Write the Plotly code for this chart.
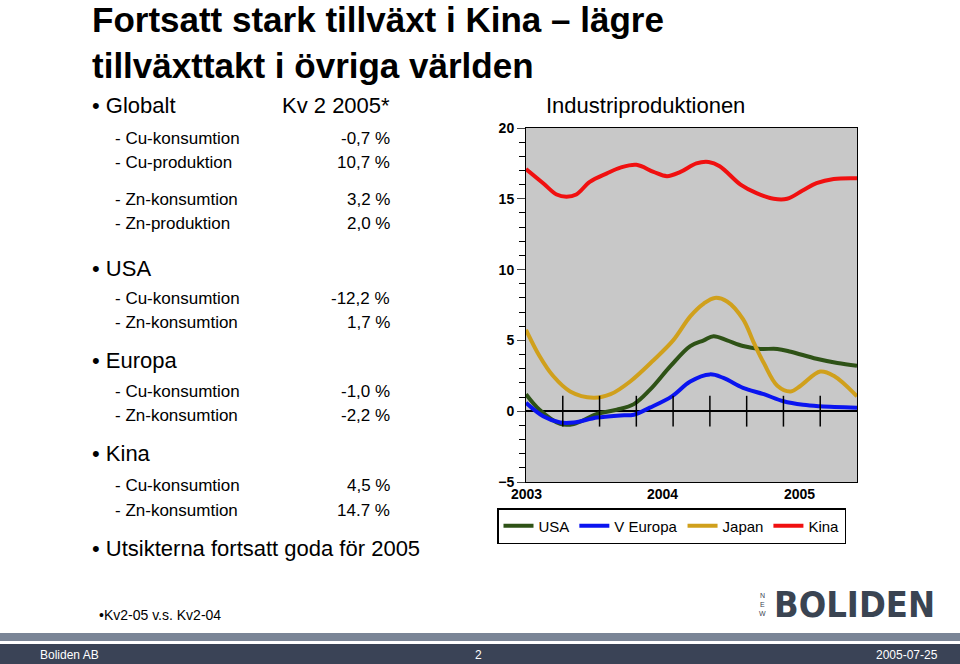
import plotly.graph_objects as go

W, H = 960, 664
kina_x = [0,1.4,2.5,3.3,4.1,5.2,6.6,7.7,9.0,10.4,11.5,12.6,13.9,14.9,15.8,17.5,18.8,20.2,21.3,22.6,23.7,25.1,27.0]
kina_y = [17.1,16.1,15.3,15.15,15.3,16.2,16.8,17.2,17.4,16.9,16.6,16.9,17.5,17.6,17.3,16.0,15.4,15.0,15.0,15.6,16.1,16.4,16.45]
japan_x = [0,1.1,2.2,3.6,5.5,6.9,8.5,10.4,12.0,13.4,14.5,15.4,16.4,17.7,18.6,19.4,20.5,21.6,22.4,24.0,25.1,27.0]
japan_y = [5.75,3.9,2.5,1.4,0.95,1.2,2.1,3.6,5.0,6.7,7.6,8.0,7.75,6.5,4.8,3.4,1.8,1.4,1.8,2.8,2.5,1.05]
usa_x = [0,1.1,2.8,3.9,5.8,7.4,8.8,10.1,11.8,13.4,14.5,15.3,16.4,17.7,19.1,20.5,21.6,23.7,25.4,27.0]
usa_y = [1.2,0.1,-0.9,-0.9,-0.2,0.1,0.5,1.5,3.2,4.6,5.0,5.3,5.0,4.6,4.4,4.4,4.2,3.7,3.4,3.2]
eu_x = [0,1.4,2.8,3.9,5.8,7.7,8.8,10.1,11.9,13.4,15.0,16.1,17.7,19.4,21.0,22.6,24.0,27.0]
eu_y = [0.6,-0.35,-0.8,-0.8,-0.45,-0.3,-0.25,0.25,1.05,2.1,2.6,2.35,1.65,1.2,0.7,0.45,0.35,0.25]
year_labels = ["2003", "2004", "2005"]
year_pos = [0, 11.1, 22.3]
quarter_ticks = [3, 6, 9, 12, 15, 18, 21, 24]

left_rows = [
    ("• Globalt", "Kv 2 2005*", 106, 22, True),
    ("- Cu-konsumtion", "-0,7 %", 138, 17, False),
    ("- Cu-produktion", "10,7 %", 162, 17, False),
    ("- Zn-konsumtion", "3,2 %", 200, 17, False),
    ("- Zn-produktion", "2,0 %", 224, 17, False),
    ("• USA", "", 268, 22, True),
    ("- Cu-konsumtion", "-12,2 %", 298, 17, False),
    ("- Zn-konsumtion", "1,7 %", 322, 17, False),
    ("• Europa", "", 360, 22, True),
    ("- Cu-konsumtion", "-1,0 %", 391, 17, False),
    ("- Zn-konsumtion", "-2,2 %", 415, 17, False),
    ("• Kina", "", 454, 22, True),
    ("- Cu-konsumtion", "4,5 %", 485, 17, False),
    ("- Zn-konsumtion", "14.7 %", 510, 17, False),
    ("• Utsikterna fortsatt goda för 2005", "", 548, 22, True),
]

def px(x): return x / W
def py(y): return 1 - y / H

fig = go.Figure()
fig.add_trace(go.Scatter(x=usa_x, y=usa_y, name="USA", mode="lines", line=dict(color="#2e5216", width=4, shape="spline")))
fig.add_trace(go.Scatter(x=eu_x, y=eu_y, name="V Europa", mode="lines", line=dict(color="#0a14f0", width=4, shape="spline")))
fig.add_trace(go.Scatter(x=japan_x, y=japan_y, name="Japan", mode="lines", line=dict(color="#d0a01c", width=4, shape="spline")))
fig.add_trace(go.Scatter(x=kina_x, y=kina_y, name="Kina", mode="lines", line=dict(color="#f01010", width=4, shape="spline")))
fig.add_trace(go.Scatter(x=quarter_ticks, y=[0]*len(quarter_ticks), mode="markers", showlegend=False, hoverinfo="skip",
                         marker=dict(symbol="line-ns", size=22, line=dict(color="black", width=1.5))))

fig.update_layout(
    width=W, height=H, margin=dict(l=0, r=0, t=0, b=0, autoexpand=False),
    paper_bgcolor="white", plot_bgcolor="#c8c8c8",
    font=dict(family="Liberation Sans, Arial", color="black"),
    showlegend=True,
    legend=dict(orientation="h", x=px(497), y=py(508), xanchor="left", yanchor="top",
                bordercolor="black", borderwidth=1.5, bgcolor="white",
                font=dict(size=15), tracegroupgap=0, itemwidth=30),
    xaxis=dict(domain=[px(526), px(857)], range=[0, 27], showticklabels=False, ticks="",
               showgrid=False, zeroline=False, showline=True, linecolor="black", mirror=True),
    yaxis=dict(domain=[py(482), py(128)], range=[-5, 20], tickvals=[-5, 0, 5, 10, 15, 20],
               ticks="outside", ticklen=8, tickfont=dict(size=14, family="Liberation Sans", weight="bold"),
               minor=dict(dtick=1, ticks="outside", ticklen=6, tickcolor="black"),
               showgrid=False, zeroline=True, zerolinecolor="black", zerolinewidth=1.5,
               showline=True, linecolor="black", mirror=True),
)

ann = []
ann.append(dict(text="<b>Fortsatt stark tillväxt i Kina – lägre<br>tillväxttakt i övriga världen</b>",
                x=px(90), y=py(-2), xanchor="left", yanchor="top", align="left",
                font=dict(size=35, family="Liberation Sans"), showarrow=False, xref="paper", yref="paper"))
for lab, val, y, fs, big in left_rows:
    x0 = 90 if big else 113
    ann.append(dict(text=lab, x=px(x0), y=py(y), xanchor="left", yanchor="middle", showarrow=False,
                    font=dict(size=fs), xref="paper", yref="paper"))
    if val:
        ann.append(dict(text=val, x=px(392), y=py(y), xanchor="right", yanchor="middle", showarrow=False,
                        font=dict(size=fs), xref="paper", yref="paper"))
ann.append(dict(text="Industriproduktionen", x=px(645), y=py(106), xanchor="center", yanchor="middle",
                showarrow=False, font=dict(size=22), xref="paper", yref="paper"))
for lab, xv in zip(year_labels, year_pos):
    ann.append(dict(text="<b>" + lab + "</b>", x=xv, y=-5, xref="x", yref="y", yanchor="top", xanchor="center",
                    yshift=-2, showarrow=False, font=dict(size=14)))
ann.append(dict(text="•Kv2-05 v.s. Kv2-04", x=px(97), y=py(615), xanchor="left", yanchor="middle",
                showarrow=False, font=dict(size=14), xref="paper", yref="paper"))
ann.append(dict(text="<b>BOLIDEN</b>", x=px(937), y=py(604), xanchor="right", yanchor="middle",
                showarrow=False,
                font=dict(size=36, color="#3a4452", family="Liberation Sans Narrow, DejaVu Sans Condensed, Roboto Condensed, Liberation Sans"),
                xref="paper", yref="paper"))
for i, ch in enumerate(["N", "E", "W"]):
    ann.append(dict(text=ch, x=px(762), y=py(595 + 9 * i), xanchor="center", yanchor="middle",
                    showarrow=False, font=dict(size=7, color="#3a4452"), xref="paper", yref="paper",
                    borderpad=0))
for t, x, xa in [("Boliden AB", 38, "left"), ("2", 478, "center"), ("2005-07-25", 940, "right")]:
    ann.append(dict(text=t, x=px(x), y=py(655), xanchor=xa, yanchor="middle", showarrow=False,
                    font=dict(size=12, color="white"), xref="paper", yref="paper"))
fig.update_layout(annotations=ann)

fig.add_shape(type="rect", xref="paper", yref="paper", x0=0, x1=1, y0=py(641), y1=py(633),
              fillcolor="#7a8596", line_width=0)
fig.add_shape(type="rect", xref="paper", yref="paper", x0=0, x1=1, y0=0, y1=py(644),
              fillcolor="#3a4356", line_width=0)

html = fig.to_html(full_html=True, config={"displayModeBar": False})
html = html.replace("<head>", "<head><style>html,body{margin:0;padding:0;overflow:hidden;}</style>", 1)
with open("out.html", "w", encoding="utf-8") as f:
    f.write(html)
